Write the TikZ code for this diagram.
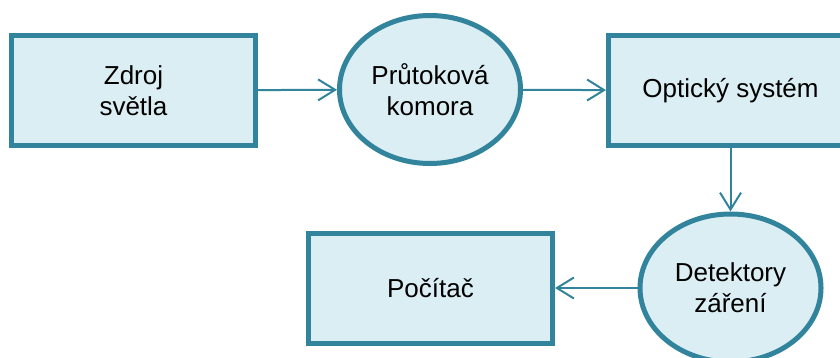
\documentclass[tikz,border=0pt]{standalone}
\usepackage{fontspec}
\setmainfont{Liberation Sans}
\usetikzlibrary{shapes.geometric,arrows.meta}
\definecolor{tealline}{HTML}{31849B}
\definecolor{tealfill}{HTML}{DAEEF3}
\tikzset{
  blok/.style={draw=tealline, fill=tealfill, line width=5pt,
    minimum width=244pt, minimum height=110pt, align=center,
    font=\fontsize{26}{31}\selectfont},
  kruh/.style={ellipse, draw=tealline, fill=tealfill, line width=5pt,
    minimum width=181pt, minimum height=148pt, inner sep=0pt, align=center,
    font=\fontsize{26}{31}\selectfont},
  sipka/.style={draw=tealline, line width=2pt,
    -{Straight Barb[length=17pt,width=21pt]}}
}
\begin{document}
\begin{tikzpicture}[x=1pt,y=-1pt]
  \useasboundingbox (0,0) rectangle (840,358);
  % horni rada
  \node[blok] (zdroj) at (133.5,90.5) {Zdroj\\světla};
  \node[kruh] (komora) at (430,89.5) {Průtoková\\komora};
  \node[blok] (optika) at (730.5,90.5) {Optický systém};
  % dolni rada
  \node[kruh] (detektor) at (730.5,288) {Detektory\\záření};
  \node[blok] (pocitac) at (430.5,288) {Počítač};
  % sipky
  \draw[sipka] (zdroj) -- (komora);
  \draw[sipka] (komora) -- (optika);
  \draw[sipka] (optika.south) -- (detektor.north);
  \draw[sipka] (detektor) -- (pocitac);
\end{tikzpicture}
\end{document}
